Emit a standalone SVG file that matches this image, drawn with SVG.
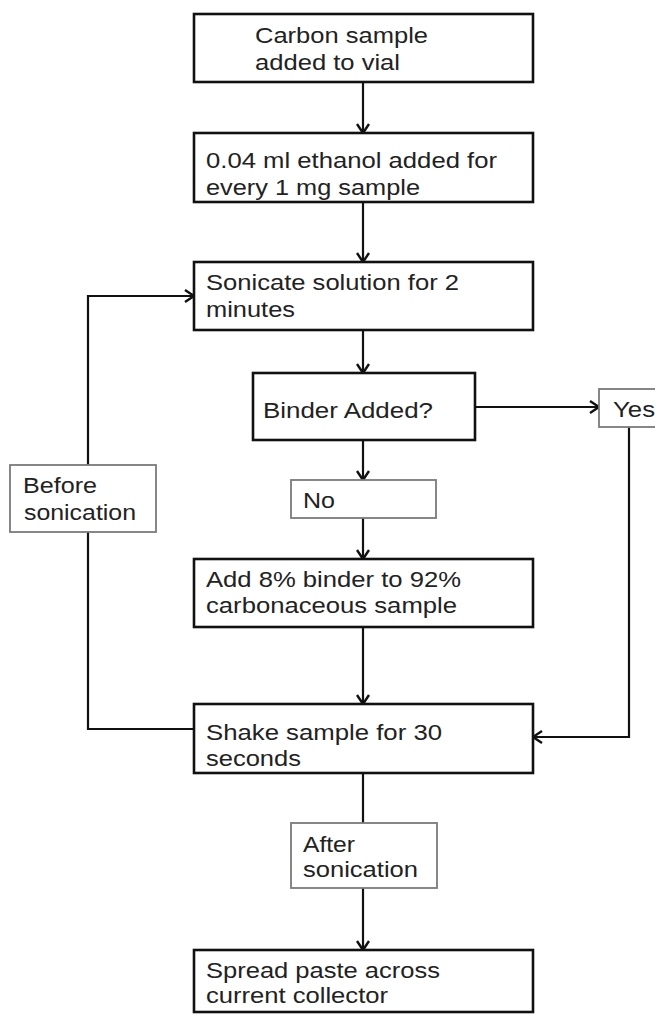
<svg xmlns="http://www.w3.org/2000/svg" width="655" height="1015" viewBox="0 0 655 1015">
<style>
.box{fill:#fff;stroke:#111;stroke-width:2.6}
.lbl{fill:#fff;stroke:#7a7a7a;stroke-width:1.8}
.t{font-family:"Liberation Sans",Arial,sans-serif;font-size:22px;fill:#222}
.c{fill:none;stroke:#111;stroke-width:2.2}
</style>
<defs>
<marker id="arr" markerUnits="userSpaceOnUse" markerWidth="14" markerHeight="16" refX="10" refY="7" orient="auto" viewBox="0 0 14 16">
<path d="M1,1 L10,7 L1,13" fill="none" stroke="#111" stroke-width="2.4"/>
</marker>
</defs>
<rect width="655" height="1015" fill="#fff"/>
<g id="connectors">
<line class="c" x1="363" y1="82" x2="363" y2="133" marker-end="url(#arr)"/>
<line class="c" x1="363" y1="202" x2="363" y2="262" marker-end="url(#arr)"/>
<line class="c" x1="363" y1="330" x2="363" y2="373" marker-end="url(#arr)"/>
<line class="c" x1="475" y1="407" x2="599" y2="407" marker-end="url(#arr)"/>
<line class="c" x1="363" y1="440" x2="363" y2="480" marker-end="url(#arr)"/>
<line class="c" x1="363" y1="518" x2="363" y2="559" marker-end="url(#arr)"/>
<line class="c" x1="363" y1="627" x2="363" y2="704" marker-end="url(#arr)"/>
<polyline class="c" points="629,427 629,737 533,737" marker-end="url(#arr)"/>
<polyline class="c" points="194,729 88,729 88,296 194,296" marker-end="url(#arr)"/>
<line class="c" x1="363" y1="773" x2="363" y2="823"/>
<line class="c" x1="363" y1="888" x2="363" y2="950" marker-end="url(#arr)"/>
</g>
<g id="n1"><rect class="box" x="194" y="14" width="339" height="68"/>
<text class="t" x="255" y="43" textLength="173" lengthAdjust="spacingAndGlyphs">Carbon sample</text>
<text class="t" x="255" y="70" textLength="145" lengthAdjust="spacingAndGlyphs">added to vial</text></g>
<g id="n2"><rect class="box" x="194" y="133" width="339" height="69"/>
<text class="t" x="206" y="168" textLength="291" lengthAdjust="spacingAndGlyphs">0.04 ml ethanol added for</text>
<text class="t" x="206" y="195" textLength="214" lengthAdjust="spacingAndGlyphs">every 1 mg sample</text></g>
<g id="n3"><rect class="box" x="194" y="262" width="339" height="68"/>
<text class="t" x="206" y="290" textLength="253" lengthAdjust="spacingAndGlyphs">Sonicate solution for 2</text>
<text class="t" x="206" y="317" textLength="89" lengthAdjust="spacingAndGlyphs">minutes</text></g>
<g id="n4"><rect class="box" x="253" y="373" width="222" height="67"/>
<text class="t" x="263" y="418" textLength="170" lengthAdjust="spacingAndGlyphs">Binder Added?</text></g>
<g id="yes"><rect class="lbl" x="599" y="389" width="80" height="38"/>
<text class="t" x="613" y="417" textLength="42" lengthAdjust="spacingAndGlyphs">Yes</text></g>
<g id="no"><rect class="lbl" x="291" y="480" width="145" height="38"/>
<text class="t" x="303" y="508" textLength="32" lengthAdjust="spacingAndGlyphs">No</text></g>
<g id="n5"><rect class="box" x="194" y="559" width="339" height="68"/>
<text class="t" x="206" y="587" textLength="255" lengthAdjust="spacingAndGlyphs">Add 8% binder to 92%</text>
<text class="t" x="206" y="613" textLength="251" lengthAdjust="spacingAndGlyphs">carbonaceous sample</text></g>
<g id="n6"><rect class="box" x="194" y="704" width="339" height="69"/>
<text class="t" x="206" y="740" textLength="236" lengthAdjust="spacingAndGlyphs">Shake sample for 30</text>
<text class="t" x="206" y="766" textLength="95" lengthAdjust="spacingAndGlyphs">seconds</text></g>
<g id="before"><rect class="lbl" x="10" y="465" width="146" height="67"/>
<text class="t" x="23" y="493" textLength="74" lengthAdjust="spacingAndGlyphs">Before</text>
<text class="t" x="24" y="520" textLength="112" lengthAdjust="spacingAndGlyphs">sonication</text></g>
<g id="after"><rect class="lbl" x="291" y="823" width="146" height="65"/>
<text class="t" x="303" y="852" textLength="52" lengthAdjust="spacingAndGlyphs">After</text>
<text class="t" x="303" y="877" textLength="115" lengthAdjust="spacingAndGlyphs">sonication</text></g>
<g id="n7"><rect class="box" x="194" y="950" width="339" height="62"/>
<text class="t" x="206" y="978" textLength="234" lengthAdjust="spacingAndGlyphs">Spread paste across</text>
<text class="t" x="206" y="1003" textLength="182" lengthAdjust="spacingAndGlyphs">current collector</text></g>
</svg>
